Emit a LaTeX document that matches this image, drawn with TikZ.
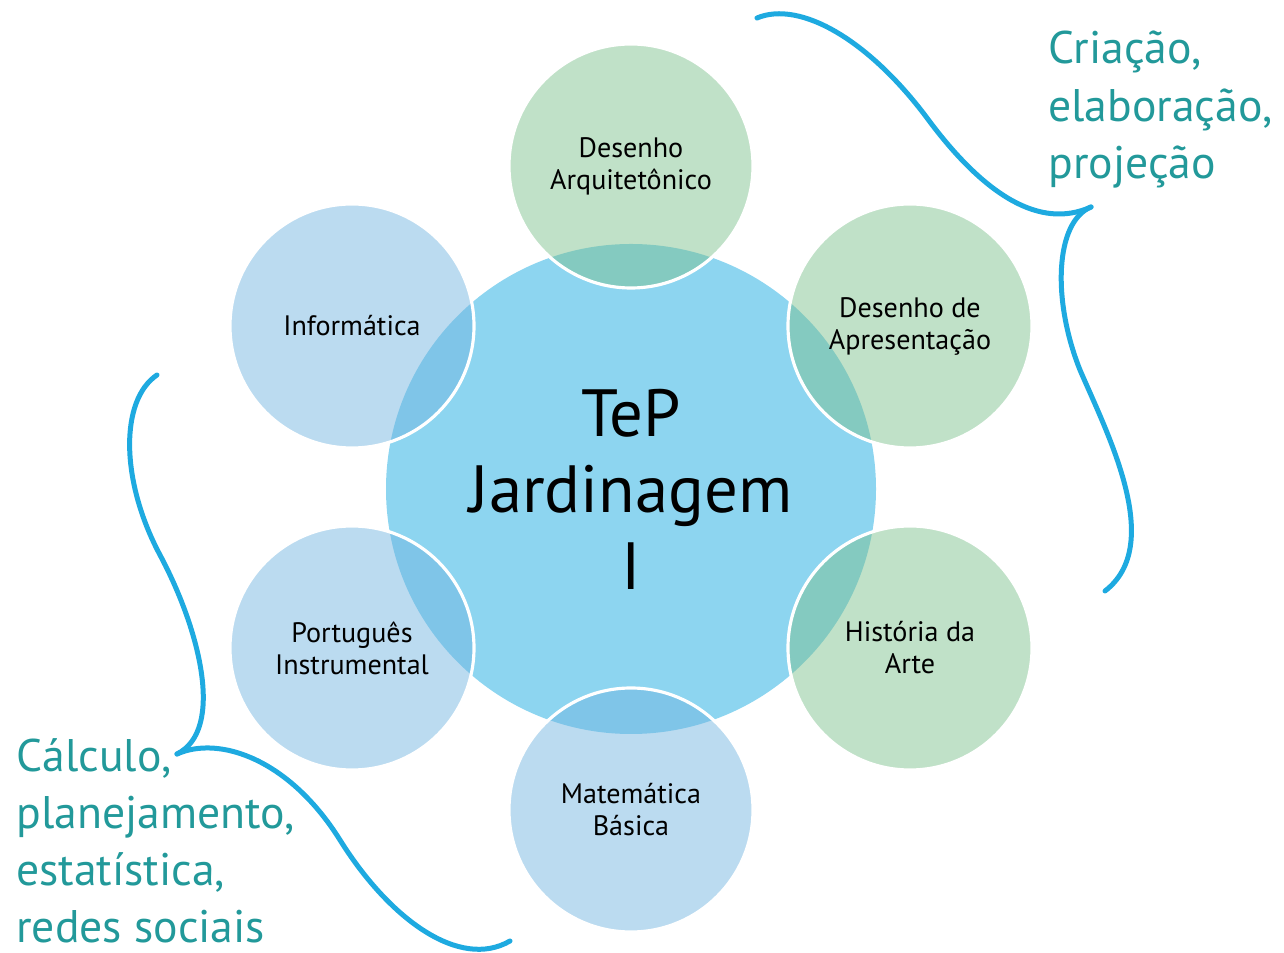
\documentclass[tikz,border=0pt]{standalone}
\usepackage{fontspec}
\setmainfont{PT Sans}
\definecolor{hubblue}{HTML}{8DD5F0}
\definecolor{topicblue}{RGB}{113,180,224}
\definecolor{topicgreen}{RGB}{124,192,140}
\definecolor{bracecol}{HTML}{1EAAE0}
\definecolor{noteteal}{HTML}{22999A}
\begin{document}
\begin{tikzpicture}[x=0.2mm, y=-0.2mm,
	hub/.style={circle, minimum size=98mm, inner sep=0pt, fill=hubblue, align=center, font=\fontsize{38}{43.5}\selectfont},
	topic/.style={circle, minimum size=48.8mm, inner sep=0pt, draw=white, line width=1.8pt, fill opacity=0.48, text opacity=1, align=center, font=\fontsize{16}{18.2}\selectfont},
	brace/.style={draw=bracecol, line width=1mm, line cap=round, line join=round},
	note/.style={inner sep=0pt, anchor=north west, align=left, text=noteteal, font=\fontsize{26}{32.5}\selectfont}]
	\useasboundingbox (0,0) rectangle (1284,953);
	\node (hub)  at (631, 489)	[hub]				{TeP\\Jardinagem\\I};
	\node (arq)  at (631, 166)	[topic, fill=topicgreen]	{Desenho\\Arquitetônico};
	\node (apr)  at (910, 326)	[topic, fill=topicgreen]	{Desenho de\\Apresentação};
	\node (hist) at (910, 648)	[topic, fill=topicgreen]	{História da\\Arte};
	\node (mat)  at (631, 810)	[topic, fill=topicblue]	{Matemática\\Básica};
	\node (port) at (352, 648)	[topic, fill=topicblue]	{Português\\Instrumental};
	\node (info) at (352, 326)	[topic, fill=topicblue]	{Informática};
	% chaves
	\draw[brace] (757,18) .. controls (800,0) and (870,40) .. (930,122)
		.. controls (985,195) and (1040,230) .. (1091,207);
	\draw[brace] (1091,207) .. controls (1055,222) and (1052,300) .. (1080,370)
		.. controls (1108,435) and (1165,545) .. (1105,591);
	\draw[brace] (157,375) .. controls (120,400) and (120,480) .. (160,555)
		.. controls (200,630) and (225,730) .. (177,754);
	\draw[brace] (177,754) .. controls (220,735) and (290,760) .. (340,840)
		.. controls (390,920) and (460,970) .. (510,941);
	\node (noteR) at (1048, 31)	[note]	{Criação,\\elaboração,\\projeção};
	\node (noteL) at (16, 738)	[note]	{Cálculo,\\planejamento,\\estatística,\\redes sociais};
\end{tikzpicture}
\end{document}
